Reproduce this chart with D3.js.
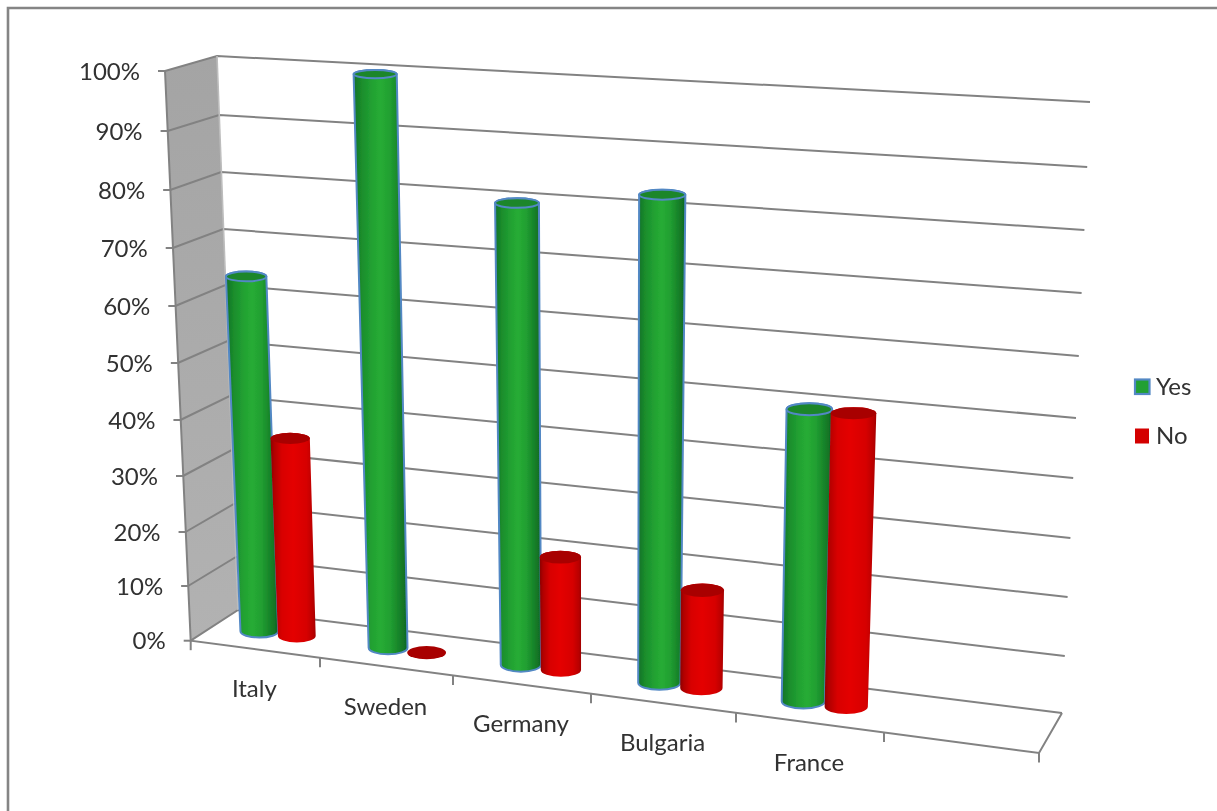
<!DOCTYPE html>
<html><head><meta charset="utf-8">
<script src="https://cdn.jsdelivr.net/npm/d3@7"></script>
<style>
html,body{margin:0;padding:0;background:#fff;overflow:hidden}
svg{display:block}
text{font-family:Lato,"Open Sans",sans-serif;fill:#303030}
</style></head><body>
<svg id="c" width="1217" height="811"></svg>
<script>
// ---- data ----
const categories = ["Italy","Sweden","Germany","Bulgaria","France"];
const seriesNames = ["Yes","No"];
const yesValues = [64,100,80,83,49.5];
const noValues  = [36,0,20,17,49.5];
const valueTicks = [0,10,20,30,40,50,60,70,80,90,100];

// ---- projection calibration (box of the 3-D plot) ----
const dom = valueTicks;
const backLeftY  = d3.scaleLinear().domain(dom).range([610,557,504,450,396,341,285,229,172,115,56]);
const backRightY = d3.scaleLinear().domain(dom).range([713,656,597,538,478,418,356,293,230,167,102]);
const frontLeftY = d3.scaleLinear().domain(dom).range([640.7,586,532,476,420,363,306,248,190,131,71]);
const frontRightY= d3.scaleLinear().domain([0,100]).range([753,127]);
const backLeftX  = d3.scaleLinear().domain([0,100]).range([238,217]);
const backRightX = d3.scaleLinear().domain([0,100]).range([1062,1090]);
const frontLeftX = d3.scaleLinear().domain([0,100]).range([190.7,165]);
const frontRightX= d3.scaleLinear().domain([0,100]).range([1039,1065]);
// fraction along the category axis (perspective makes later bands wider)
const bandEdge = d3.scaleLinear().domain([0,1,2,3,4,5,6])
  .range([190.7,320,453,591,736,884,1039].map(x=>(x-190.7)/(1039-190.7)));
const FRONT_SPAN = 1039-190.7;

function project(t,d,v){ // t along categories, d depth (0 front, 1 back), v value
  const fx = d3.interpolateNumber(frontLeftX(v),frontRightX(v))(t);
  const fy = d3.interpolateNumber(frontLeftY(v),frontRightY(v))(t);
  const bx = d3.interpolateNumber(backLeftX(v),backRightX(v))(t);
  const by = d3.interpolateNumber(backLeftY(v),backRightY(v))(t);
  return [fx+(bx-fx)*d, fy+(by-fy)*d];
}

const svg = d3.select("#c");
const defs = svg.append("defs");
const soft = defs.append("filter").attr("id","soft").attr("filterUnits","userSpaceOnUse")
  .attr("x",0).attr("y",0).attr("width",1217).attr("height",811);
soft.append("feGaussianBlur").attr("stdDeviation",0.5);

function grad(id,stops,vertical){
  const g = defs.append("linearGradient").attr("id",id)
    .attr("x1",0).attr("y1",0).attr("x2",vertical?0:1).attr("y2",vertical?1:0);
  stops.forEach(([o,c])=>g.append("stop").attr("offset",o).attr("stop-color",c));
}
grad("gYes",[[0,"#11702a"],[0.14,"#1a8c2c"],[0.35,"#22a232"],[0.5,"#27ac35"],[0.68,"#219f31"],[0.88,"#157d28"],[1,"#0e6622"]]);
grad("gNo",[[0,"#8c0000"],[0.08,"#b00000"],[0.25,"#d80000"],[0.5,"#e40000"],[0.8,"#d60000"],[0.95,"#b80000"],[1,"#a00000"]]);
grad("gWall",[[0,"#a4a4a4"],[1,"#b2b2b2"]],true);

const root = svg.append("g").attr("filter","url(#soft)");
const line = d3.line();
const GRID = "#828282";
const GW = 2;

// outer frame
root.append("path").attr("d",line([[8,811],[8,8],[1217,8]])).attr("fill","none").attr("stroke","#858585").attr("stroke-width",2.6);

// left wall
root.append("path").attr("d",line([project(0,0,100),project(0,1,100),project(0,1,0),project(0,0,0)])+"Z")
  .attr("fill","url(#gWall)");

// gridlines (left wall and back wall)
root.append("g").selectAll("path").data(valueTicks).join("path")
  .attr("fill","none").attr("stroke",GRID).attr("stroke-width",GW)
  .attr("d",v=>line([project(0,0,v),project(0,1,v),project(1,1,v)]));

// wall edges, floor edges
root.append("path").attr("d",line([project(0,0,100),project(0,0,0),project(1,0,0),project(1,1,0)]))
  .attr("fill","none").attr("stroke",GRID).attr("stroke-width",GW);
root.append("path").attr("d",line([project(0,1,100),project(0,1,0)]))
  .attr("fill","none").attr("stroke","#bdbdbd").attr("stroke-width",1.6);

// value axis: d3 axis, each tick then slid along the slanted front edge
const yAxis = d3.axisLeft(frontLeftY).tickValues(valueTicks).tickFormat(d=>d+"%").tickSize(7).tickPadding(18);
const ya = root.append("g").call(yAxis);
ya.select(".domain").remove();
ya.selectAll(".tick").attr("transform",d=>`translate(${frontLeftX(d)},${frontLeftY(d)})`);
ya.selectAll(".tick line").attr("stroke",GRID).attr("stroke-width",GW);
ya.selectAll(".tick text").attr("font-size",24).attr("font-family",null).attr("fill","#303030").attr("y",1);

// category axis
const edges = d3.range(0,7);
root.append("g").selectAll("path").data(edges).join("path")
  .attr("fill","none").attr("stroke",GRID).attr("stroke-width",GW)
  .attr("d",i=>{const p=project(bandEdge(i),0,0);return line([p,[p[0],p[1]+9.5]]);});
const midT = i=>(bandEdge(i)+bandEdge(i+1))/2;
const xMid = d3.scaleOrdinal().domain(categories).range(categories.map((c,i)=>project(midT(i),0,0)[0]));
const xa = root.append("g").call(d3.axisBottom(xMid).tickSize(0).tickPadding(0));
xa.select(".domain").remove();
xa.selectAll(".tick").attr("transform",(c,i)=>{const p=project(midT(i),0,0);return `translate(${p[0]-1},${p[1]+39.5})`;});
xa.selectAll(".tick text").attr("y",0).attr("dy","0.35em").attr("font-size",24).attr("font-family",null).attr("fill","#303030").attr("text-anchor","middle");

// bars
const BAR_OFF = 0.147, BAR_R = 0.146, DEPTH = 0.5;
function cylinder(g,i,v,sIdx){
  const bw = bandEdge(i+1)-bandEdge(i);
  const t = midT(i)+(sIdx===0?-1:1)*BAR_OFF*bw;
  const base = project(t,DEPTH,0), top = project(t,DEPTH,v);
  const rb = BAR_R*bw*FRONT_SPAN, rt = rb*(1+0.11*v/100);
  const ryb = 0.34*rb, ryt = (0.34-0.15*v/100)*rt;
  const yes = sIdx===0;
  const edge = yes?"#5288c4":"none", ew = yes?2:0;
  if(v>0){
    const d = `M${top[0]-rt},${top[1]} L${base[0]-rb},${base[1]} A${rb},${ryb} 0 0 0 ${base[0]+rb},${base[1]} L${top[0]+rt},${top[1]} A${rt},${ryt} 0 0 0 ${top[0]-rt},${top[1]}Z`;
    g.append("path").attr("d",d).attr("fill",yes?"url(#gYes)":"url(#gNo)").attr("stroke",edge).attr("stroke-width",ew);
  }
  g.append("ellipse").attr("cx",top[0]).attr("cy",top[1]).attr("rx",rt).attr("ry",ryt)
    .attr("fill",yes?"#1c862b":"#a80000").attr("stroke",edge).attr("stroke-width",ew);
}
const barsG = root.append("g");
categories.forEach((c,i)=>{
  cylinder(barsG,i,yesValues[i],0);
  cylinder(barsG,i,noValues[i],1);
});

// legend
const legend = root.append("g");
const legY = d3.scalePoint().domain(seriesNames).range([387,436]);
legend.append("rect").attr("x",1135).attr("y",legY("Yes")-7.5).attr("width",14.5).attr("height",14.5)
  .attr("fill","#22a032").attr("stroke","#5288c4").attr("stroke-width",2.2);
legend.append("rect").attr("x",1135).attr("y",legY("No")-7.5).attr("width",14).attr("height",15)
  .attr("fill","#d40000");
legend.selectAll("text").data(seriesNames).join("text")
  .attr("x",1156).attr("y",d=>legY(d)).attr("dy","0.35em").attr("font-size",24).text(d=>d);
</script>
</body></html>
